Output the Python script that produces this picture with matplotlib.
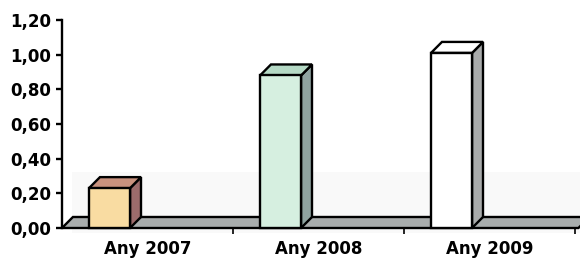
import matplotlib
matplotlib.use("Agg")
import matplotlib.pyplot as plt
from matplotlib.patches import Polygon, Rectangle

categories = ["Any 2007", "Any 2008", "Any 2009"]
values = [0.23, 0.88, 1.01]
front_colors = ["#f9dca2", "#d6efe0", "#ffffff"]
side_colors = ["#9c6b6b", "#8fa3a0", "#a9abab"]
top_colors = ["#c9927e", "#b5d9c5", "#ffffff"]
ytick_vals = [0.0, 0.2, 0.4, 0.6, 0.8, 1.0, 1.2]
ytick_labels = ["0,00", "0,20", "0,40", "0,60", "0,80", "1,00", "1,20"]

plt.rcParams['font.family'] = ['DejaVu Sans']

fig = plt.figure(figsize=(5.8, 2.63), dpi=100)
ax = fig.add_axes([62/580, 35/263, 513/580, 208/263])
ax.set_facecolor("none")
ax.set_xlim(0, 3)
ax.set_ylim(0, 1.2)

# faint scan band
ax.add_patch(Rectangle((72/580, 30/263), 508/580, 61/263, transform=fig.transFigure,
                       facecolor="#f9f9f9", edgecolor="none", zorder=0.5, clip_on=False))

dx, dy = 0.064, 0.0635
lw = 1.7

# floor slab
floor = Polygon([(0, 0), (3.02, 0), (3.02 + dx, dy), (dx, dy)], closed=True,
                facecolor="#a9adad", edgecolor="black", lw=lw, clip_on=False, zorder=2)
ax.add_patch(floor)

bw = 0.24
off = 0.158
for i, v in enumerate(values):
    x0 = i + off
    x1 = x0 + bw
    side = Polygon([(x1, 0), (x1 + dx, dy), (x1 + dx, v + dy), (x1, v)], closed=True,
                   facecolor=side_colors[i], edgecolor="black", lw=lw, clip_on=False, zorder=3)
    top = Polygon([(x0, v), (x1, v), (x1 + dx, v + dy), (x0 + dx, v + dy)], closed=True,
                  facecolor=top_colors[i], edgecolor="black", lw=lw, clip_on=False, zorder=3)
    front = Rectangle((x0, 0), bw, v, facecolor=front_colors[i], edgecolor="black",
                      lw=lw, clip_on=False, zorder=4)
    ax.add_patch(side)
    ax.add_patch(top)
    ax.add_patch(front)

for s in ["top", "right", "bottom"]:
    ax.spines[s].set_visible(False)
ax.spines["left"].set_linewidth(lw)
ax.spines["left"].set_zorder(5)

ax.set_yticks(ytick_vals)
ax.set_yticklabels(ytick_labels, fontsize=12, fontweight="bold")
ax.tick_params(axis="y", length=4, width=lw, pad=4)

ax.set_xticks([1, 2, 3])
ax.set_xticklabels([])
ax.tick_params(axis="x", length=4, width=1.2, direction="out")
ax.set_xticks([0.5, 1.5, 2.5], minor=True)
ax.set_xticklabels(categories, minor=True, fontsize=12, fontweight="bold")
ax.tick_params(axis="x", which="minor", length=0, pad=9)

fig.savefig("out.png", dpi=100)
